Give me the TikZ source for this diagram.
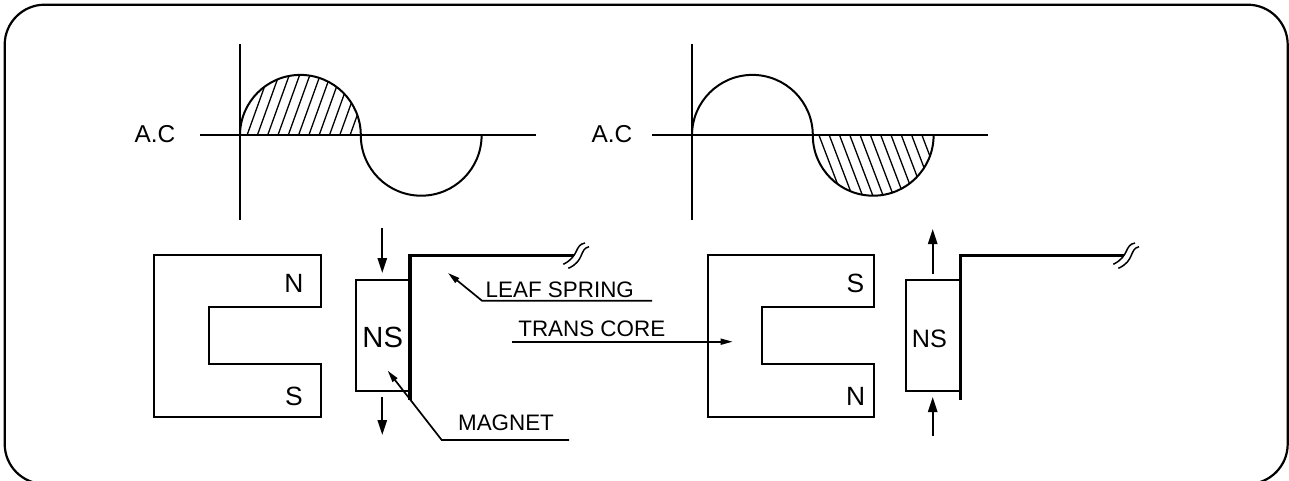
\documentclass[tikz,border=0pt]{standalone}
\usepackage{fontspec}
\setmainfont{Liberation Sans}
\usetikzlibrary{arrows.meta}

\begin{document}
\begin{tikzpicture}[
        x=0.5pt, y=-0.5pt,
        frame/.style={line width=1.1pt, rounded corners=20pt},
        wire/.style={line width=1pt, line join=miter},
        spring/.style={line width=1.7pt, line join=miter},
        hatch/.style={line width=0.65pt},
        breakline/.style={line width=0.75pt},
        label/.style={inner sep=0pt, font=\fontsize{11.2}{13}\selectfont},
        pole/.style={inner sep=0pt, font=\fontsize{13.2}{15}\selectfont},
        motion/.style={-{Triangle[length=7.5pt, width=4.6pt]}, line width=1pt},
        leader/.style={-{Triangle[length=6pt, width=3pt]}, line width=0.85pt}
    ]
        \clip (0,0) rectangle (1289,481);
        \draw[frame] (4.7,4.7) rectangle (1287.7,484);

        \node[inner sep=0pt, font=\fontsize{12.2}{14}\selectfont] (acleft) at (155,134) {A.C};
        \node[inner sep=0pt, font=\fontsize{12.2}{14}\selectfont] (acright) at (612,134) {A.C};

        \draw[wire] (240,44) -- (240,220);
        \draw[wire] (200,135.3) -- (536,135.3);
        \draw[wire] (240,135.3) arc[start angle=180, end angle=360, radius=60.4]
            arc[start angle=180, end angle=0, radius=60.4];
        \begin{scope}
            \clip (240,135.3) arc[start angle=180, end angle=360, radius=60.4] -- cycle;
            \foreach \i in {0,...,10}
                \draw[hatch] ({247+10.3*\i},135.3) -- ++(25.2,-70);
        \end{scope}

        \draw[wire] (692,44) -- (692,220);
        \draw[wire] (652,135.3) -- (988,135.3);
        \draw[wire] (692,135.3) arc[start angle=180, end angle=360, radius=60.4]
            arc[start angle=180, end angle=0, radius=60.4];
        \begin{scope}
            \clip (812.8,135.3) arc[start angle=180, end angle=0, radius=60.4] -- cycle;
            \foreach \i in {0,...,10}
                \draw[hatch] ({819+10.3*\i},135.3) -- ++(26.6,70);
        \end{scope}

        \draw[wire] (320.7,306.7) -- (209,306.7) -- (209,364) -- (320.7,364) -- (320.7,416.7)
            -- (154.3,416.7) -- (154.3,255.3) -- (320.7,255.3) -- cycle;
        \node[pole] (nleft) at (294,283.7) {N};
        \node[pole] (sleft) at (294,396) {S};

        \draw[wire] (355.7,280) rectangle (410,390.7);
        \node[inner sep=0pt, font=\fontsize{14.6}{17}\selectfont] (nsleft) at (382.7,337.3) {NS};
        \draw[spring] (410,400) -- (410,255.3) -- (574,255.3);
        \draw[breakline] (563.3,264.3) .. controls (580,256) and (574,245) .. (585,243);
        \draw[breakline] (568.3,268.3) .. controls (585,261) and (579,249) .. (589,246.7);
        \coordinate (topleft) at (382.3,228);
        \coordinate (topleftend) at (382.3,273);
        \coordinate (botleft) at (382.3,397);
        \coordinate (botleftend) at (382.3,435);
        \draw[motion] (topleft) -- (topleftend);
        \draw[motion] (botleft) -- (botleftend);

        \node[label] (leaf) at (559.8,290) {LEAF SPRING};
        \coordinate (leaftip) at (448,273);
        \draw[leader] (652,300.7) -- (482,300.7) -- (leaftip);
        \node[label] (trans) at (591.8,329) {TRANS CORE};
        \coordinate (transstart) at (512,341.7);
        \coordinate (transtip) at (732.7,341.7);
        \draw[leader] (transstart) -- (transtip);
        \node[label] (magnet) at (506,423) {MAGNET};
        \coordinate (magnettip) at (387.7,370.7);
        \draw[leader] (569,440) -- (441.7,440) -- (magnettip);

        \draw[wire] (874,306.7) -- (762.3,306.7) -- (762.3,364) -- (874,364) -- (874,416.7)
            -- (708.3,416.7) -- (708.3,255.3) -- (874,255.3) -- cycle;
        \node[pole] (sright) at (855.3,283.3) {S};
        \node[pole] (nright) at (855.7,396) {N};

        \draw[wire] (906.3,280) rectangle (960,390.7);
        \node[inner sep=0pt, font=\fontsize{12.6}{15}\selectfont] (nsright) at (929.3,339.3) {NS};
        \draw[spring] (960.3,400) -- (960.3,255.3) -- (1124,255.3);
        \draw[breakline] (1113.3,264.3) .. controls (1130,256) and (1124,245) .. (1135,243);
        \draw[breakline] (1118.3,268.3) .. controls (1135,261) and (1129,249) .. (1139,246.7);
        \coordinate (topright) at (932.7,274.3);
        \coordinate (toprightend) at (932.7,229);
        \coordinate (botright) at (932.7,435.7);
        \coordinate (botrightend) at (932.7,397);
        \draw[motion] (topright) -- (toprightend);
        \draw[motion] (botright) -- (botrightend);
    \end{tikzpicture}
\end{document}
